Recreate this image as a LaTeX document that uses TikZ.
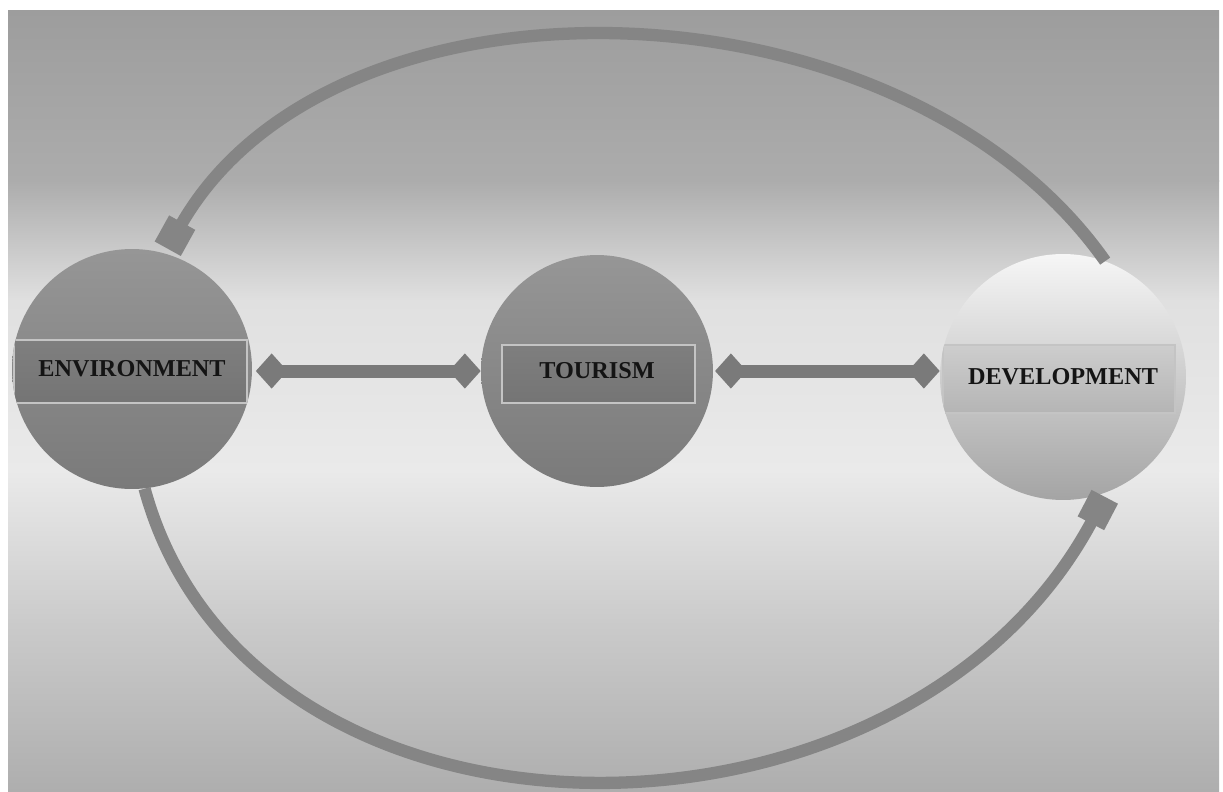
\documentclass[tikz,border=0pt]{standalone}
\usepackage{fontspec}
\setmainfont{Liberation Serif}
\usetikzlibrary{arrows.meta,calc}
\definecolor{bgA}{HTML}{9D9D9D}
\definecolor{bgB}{HTML}{ACACAC}
\definecolor{bgC}{HTML}{E0E0E0}
\definecolor{bgD}{HTML}{EAEAEA}
\definecolor{bgE}{HTML}{CBCBCB}
\definecolor{bgF}{HTML}{AEAEAE}
\definecolor{arcgray}{HTML}{858585}
\definecolor{bargray}{HTML}{7A7A7A}
\definecolor{bandline}{HTML}{C4C4C4}
\definecolor{darkTop}{HTML}{969696}
\definecolor{darkBot}{HTML}{7A7A7A}
\definecolor{bandTop}{HTML}{8E8E8E}
\definecolor{bandBot}{HTML}{666666}
\definecolor{lightTop}{HTML}{F6F6F6}
\definecolor{lightMid}{HTML}{DADADA}
\definecolor{lightBot}{HTML}{A4A4A4}
\definecolor{lbandTop}{HTML}{EEEEEE}
\definecolor{lbandBot}{HTML}{959595}
\definecolor{txt}{HTML}{141414}
\begin{document}
\begin{tikzpicture}[x=0.02cm,y=-0.02cm,
  ball/.style={circle, inner sep=0pt, text=txt,
    font=\fontsize{13.8}{16}\selectfont\bfseries},
  darkball/.style={ball, top color=darkTop, bottom color=darkBot},
  lightball/.style={ball, top color=lightTop, middle color=lightMid, bottom color=lightBot},
  loopline/.style={draw=arcgray, line width=7pt, shorten >=3pt,
    -{Square[length=17pt,width=17pt]}},
  linkbar/.style={draw=bargray, line width=7.4pt,
    {Turned Square[length=18pt,width=20pt]}-{Turned Square[length=18pt,width=20pt]}},
  darkband/.style={draw=bandline, line width=0.8pt, top color=bandTop, bottom color=bandBot},
  lightband/.style={draw=bandline, line width=0.8pt, top color=lbandTop, bottom color=lbandBot}
]
\useasboundingbox (0,0) rectangle (1223,791);
% background
\fill[white] (0,0) rectangle (1223,791);
\shade[top color=bgA, bottom color=bgB] (8,10) rectangle (1219,181);
\shade[top color=bgB, bottom color=bgC] (8,180) rectangle (1219,301);
\shade[top color=bgC, bottom color=bgD] (8,300) rectangle (1219,471);
\shade[top color=bgD, bottom color=bgE] (8,470) rectangle (1219,621);
\shade[top color=bgE, bottom color=bgF] (8,620) rectangle (1219,791);

% circles
\node[darkball, minimum size=4.8cm,
  path picture={\path[darkband] ($(path picture bounding box.center)+(-118,-29)$) rectangle ($(path picture bounding box.center)+(115,34)$);}]
  (env) at (132,369) {ENVIRONMENT};
\node[darkball, minimum size=4.64cm,
  path picture={\path[darkband] ($(path picture bounding box.center)+(-95,-26)$) rectangle ($(path picture bounding box.center)+(98,32)$);}]
  (tour) at (597,371) {TOURISM};
\node[lightball, minimum size=4.92cm,
  path picture={\path[lightband] ($(path picture bounding box.center)+(-120,-32)$) rectangle ($(path picture bounding box.center)+(112,36)$);}]
  (dev) at (1063,377) {DEVELOPMENT};

% bars
\draw[linkbar, shorten <=2pt] (tour.west -| env.east) -- (tour.west);
\draw[linkbar, shorten <=1pt] (tour.east) -- (tour.east -| dev.west);

% loops
\draw[loopline] (dev.70) .. controls (900,-30) and (330,-44) .. (env.74);
\draw[loopline] (env.-84) .. controls (250,876) and (906,876) .. (dev.-69);
\end{tikzpicture}
\end{document}
